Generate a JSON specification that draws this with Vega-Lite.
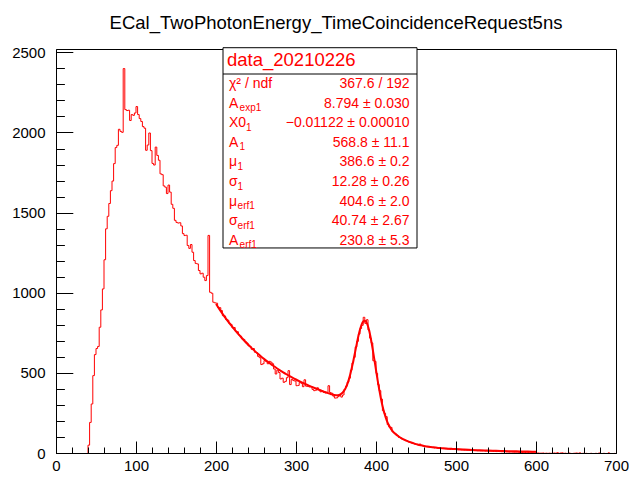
{
 "$schema": "https://vega.github.io/schema/vega-lite/v6.json",
 "width": 560, "height": 404,
 "autosize": {"type": "none"},
 "padding": {"left": 56, "top": 49, "right": 13, "bottom": 24},
 "background": "white",
 "config": {"view": {"stroke": "black", "strokeWidth": 1}, "font": "Liberation Sans"},
 "title": {"text": "ECal_TwoPhotonEnergy_TimeCoincidenceRequest5ns", "frame": "group", "anchor": "middle", "offset": -2, "baseline": "alphabetic", "fontSize": 18.5, "fontWeight": "normal", "font": "Liberation Sans", "color": "black"},
 "datasets": {
  "hist": [
{"x":1,"n":0},{"x":3,"n":0},{"x":5,"n":0},{"x":7,"n":0},{"x":9,"n":0},{"x":11,"n":0},{"x":13,"n":0},{"x":15,"n":0},{"x":17,"n":0},{"x":19,"n":0},
{"x":21,"n":0},{"x":23,"n":0},{"x":25,"n":0},{"x":27,"n":0},{"x":29,"n":0},{"x":31,"n":0},{"x":33,"n":0},{"x":35,"n":0},{"x":37,"n":0},{"x":39,"n":0},
{"x":41,"n":52},{"x":43,"n":194},{"x":45,"n":309},{"x":47,"n":486},{"x":49,"n":617},{"x":51,"n":655},{"x":53,"n":668},{"x":55,"n":788},{"x":57,"n":896},{"x":59,"n":1027},
{"x":61,"n":1209},{"x":63,"n":1402},{"x":65,"n":1480},{"x":67,"n":1560},{"x":69,"n":1640},{"x":71,"n":1700},{"x":73,"n":1809},{"x":75,"n":1909},{"x":77,"n":1923},{"x":79,"n":2023},
{"x":81,"n":2010},{"x":83,"n":2004},{"x":85,"n":2402},{"x":87,"n":2146},{"x":89,"n":2140},{"x":91,"n":2142},{"x":93,"n":2078},{"x":95,"n":2115},{"x":97,"n":2110},{"x":99,"n":2125},
{"x":101,"n":2165},{"x":103,"n":2115},{"x":105,"n":2090},{"x":107,"n":2072},{"x":109,"n":2040},{"x":111,"n":2030},{"x":113,"n":1892},{"x":115,"n":1925},{"x":117,"n":2000},{"x":119,"n":1890},
{"x":121,"n":1810},{"x":123,"n":1800},{"x":125,"n":1912},{"x":127,"n":1860},{"x":129,"n":1830},{"x":131,"n":1745},{"x":133,"n":1740},{"x":135,"n":1670},{"x":137,"n":1662},{"x":139,"n":1622},
{"x":141,"n":1675},{"x":143,"n":1631},{"x":145,"n":1555},{"x":147,"n":1530},{"x":149,"n":1455},{"x":151,"n":1442},{"x":153,"n":1438},{"x":155,"n":1440},{"x":157,"n":1420},{"x":159,"n":1372},
{"x":161,"n":1360},{"x":163,"n":1362},{"x":165,"n":1298},{"x":167,"n":1280},{"x":169,"n":1304},{"x":171,"n":1256},{"x":173,"n":1204},{"x":175,"n":1186},{"x":177,"n":1183},{"x":179,"n":1142},
{"x":181,"n":1121},{"x":183,"n":1125},{"x":185,"n":1100},{"x":187,"n":1079},{"x":189,"n":1110},{"x":191,"n":1361},{"x":193,"n":1006},{"x":195,"n":1000},{"x":197,"n":944},{"x":199,"n":940},
{"x":201,"n":938},{"x":203,"n":912},{"x":205,"n":910},{"x":207,"n":892},{"x":209,"n":860},{"x":211,"n":858},{"x":213,"n":836},{"x":215,"n":832},{"x":217,"n":812},{"x":219,"n":806},
{"x":221,"n":784},{"x":223,"n":786},{"x":225,"n":763},{"x":227,"n":760},{"x":229,"n":740},{"x":231,"n":732},{"x":233,"n":716},{"x":235,"n":712},{"x":237,"n":698},{"x":239,"n":690},
{"x":241,"n":672},{"x":243,"n":668},{"x":245,"n":650},{"x":247,"n":655},{"x":249,"n":632},{"x":251,"n":628},{"x":253,"n":606},{"x":255,"n":598},{"x":257,"n":555},{"x":259,"n":560},
{"x":261,"n":580},{"x":263,"n":575},{"x":265,"n":560},{"x":267,"n":575},{"x":269,"n":570},{"x":271,"n":560},{"x":273,"n":527},{"x":275,"n":496},{"x":277,"n":520},{"x":279,"n":505},
{"x":281,"n":465},{"x":283,"n":470},{"x":285,"n":444},{"x":287,"n":450},{"x":289,"n":473},{"x":291,"n":517},{"x":293,"n":430},{"x":295,"n":462},{"x":297,"n":455},{"x":299,"n":452},
{"x":301,"n":423},{"x":303,"n":425},{"x":305,"n":444},{"x":307,"n":438},{"x":309,"n":417},{"x":311,"n":460},{"x":313,"n":420},{"x":315,"n":418},{"x":317,"n":415},{"x":319,"n":417},
{"x":321,"n":400},{"x":323,"n":392},{"x":325,"n":395},{"x":327,"n":410},{"x":329,"n":398},{"x":331,"n":385},{"x":333,"n":392},{"x":335,"n":381},{"x":337,"n":378},{"x":339,"n":381},
{"x":341,"n":423},{"x":343,"n":380},{"x":345,"n":376},{"x":347,"n":358},{"x":349,"n":346},{"x":351,"n":347},{"x":353,"n":355},{"x":355,"n":362},{"x":357,"n":352},{"x":359,"n":365},
{"x":361,"n":400},{"x":363,"n":420},{"x":365,"n":445},{"x":367,"n":470},{"x":369,"n":520},{"x":371,"n":565},{"x":373,"n":600},{"x":375,"n":665},{"x":377,"n":700},{"x":379,"n":745},
{"x":381,"n":780},{"x":383,"n":800},{"x":385,"n":850},{"x":387,"n":812},{"x":389,"n":835},{"x":391,"n":770},{"x":393,"n":720},{"x":395,"n":690},{"x":397,"n":579},{"x":399,"n":575},
{"x":401,"n":500},{"x":403,"n":430},{"x":405,"n":392},{"x":407,"n":340},{"x":409,"n":267},{"x":411,"n":250},{"x":413,"n":230},{"x":415,"n":180},{"x":417,"n":165},{"x":419,"n":163},
{"x":421,"n":135},{"x":423,"n":128},{"x":425,"n":121},{"x":427,"n":112},{"x":429,"n":100},{"x":431,"n":97},{"x":433,"n":90},{"x":435,"n":86},{"x":437,"n":80},{"x":439,"n":79},
{"x":441,"n":72},{"x":443,"n":70},{"x":445,"n":66},{"x":447,"n":64},{"x":449,"n":58},{"x":451,"n":57},{"x":453,"n":53},{"x":455,"n":59},{"x":457,"n":50},{"x":459,"n":47},
{"x":461,"n":44},{"x":463,"n":43},{"x":465,"n":41},{"x":467,"n":40},{"x":469,"n":38},{"x":471,"n":37},{"x":473,"n":35},{"x":475,"n":38},{"x":477,"n":34},{"x":479,"n":36},
{"x":481,"n":32},{"x":483,"n":31},{"x":485,"n":30},{"x":487,"n":29},{"x":489,"n":28},{"x":491,"n":28},{"x":493,"n":26},{"x":495,"n":27},{"x":497,"n":25},{"x":499,"n":25},
{"x":501,"n":24},{"x":503,"n":23},{"x":505,"n":23},{"x":507,"n":22},{"x":509,"n":22},{"x":511,"n":21},{"x":513,"n":21},{"x":515,"n":20},{"x":517,"n":20},{"x":519,"n":19},
{"x":521,"n":21},{"x":523,"n":18},{"x":525,"n":18},{"x":527,"n":17},{"x":529,"n":17},{"x":531,"n":16},{"x":533,"n":16},{"x":535,"n":17},{"x":537,"n":15},{"x":539,"n":15},
{"x":541,"n":14},{"x":543,"n":15},{"x":545,"n":14},{"x":547,"n":13},{"x":549,"n":13},{"x":551,"n":12},{"x":553,"n":13},{"x":555,"n":12},{"x":557,"n":11},{"x":559,"n":11},
{"x":561,"n":12},{"x":563,"n":10},{"x":565,"n":10},{"x":567,"n":9},{"x":569,"n":10},{"x":571,"n":9},{"x":573,"n":8},{"x":575,"n":8},{"x":577,"n":9},{"x":579,"n":7},
{"x":581,"n":7},{"x":583,"n":6},{"x":585,"n":7},{"x":587,"n":6},{"x":589,"n":5},{"x":591,"n":6},{"x":593,"n":4},{"x":595,"n":5},{"x":597,"n":4},{"x":599,"n":4},
{"x":601,"n":3},{"x":603,"n":3},{"x":605,"n":2},{"x":607,"n":2},{"x":609,"n":3},{"x":611,"n":1},{"x":613,"n":2},{"x":615,"n":1},{"x":617,"n":2},{"x":619,"n":1},
{"x":621,"n":2},{"x":623,"n":3},{"x":625,"n":2},{"x":627,"n":5},{"x":629,"n":1},{"x":631,"n":3},{"x":633,"n":4},{"x":635,"n":1},{"x":637,"n":2},{"x":639,"n":0},
{"x":641,"n":4},{"x":643,"n":1},{"x":645,"n":0},{"x":647,"n":1},{"x":649,"n":2},{"x":651,"n":3},{"x":653,"n":1},{"x":655,"n":4},{"x":657,"n":0},{"x":659,"n":1},
{"x":661,"n":0},{"x":663,"n":1},{"x":665,"n":0},{"x":667,"n":0},{"x":669,"n":1},{"x":671,"n":0},{"x":673,"n":0},{"x":675,"n":1},{"x":677,"n":0},{"x":679,"n":3},
{"x":681,"n":0},{"x":683,"n":0},{"x":685,"n":1},{"x":687,"n":0},{"x":689,"n":0},{"x":691,"n":4},{"x":693,"n":0},{"x":695,"n":0},{"x":697,"n":0},{"x":699,"n":1}
  ],
  "fit": [
{"x":200,"f":930.0},{"x":204,"f":899.3},{"x":208,"f":870.0},{"x":212,"f":841.9},{"x":216,"f":815.1},{"x":220,"f":789.5},{"x":224,"f":765.0},{"x":228,"f":741.5},{"x":232,"f":719.1},{"x":236,"f":697.7},
{"x":240,"f":677.2},{"x":244,"f":657.6},{"x":248,"f":638.9},{"x":252,"f":621.0},{"x":256,"f":603.9},{"x":260,"f":587.5},{"x":264,"f":571.9},{"x":268,"f":556.9},{"x":272,"f":542.6},{"x":276,"f":528.9},
{"x":280,"f":515.8},{"x":284,"f":503.3},{"x":288,"f":491.4},{"x":292,"f":479.9},{"x":296,"f":469.0},{"x":300,"f":458.6},{"x":304,"f":448.5},{"x":308,"f":438.9},{"x":312,"f":429.7},{"x":316,"f":420.8},
{"x":320,"f":412.4},{"x":324,"f":404.2},{"x":328,"f":396.3},{"x":332,"f":388.5},{"x":336,"f":380.9},{"x":340,"f":373.8},{"x":344,"f":367.1},{"x":348,"f":362.1},{"x":352,"f":360.7},{"x":356,"f":367.2},
{"x":360,"f":387.4},{"x":362,"f":404.8},{"x":364,"f":428.2},{"x":366,"f":457.9},{"x":368,"f":494.0},{"x":370,"f":536.2},{"x":372,"f":583.1},{"x":374,"f":632.8},{"x":376,"f":682.8},{"x":378,"f":729.9},
{"x":380,"f":770.5},{"x":382,"f":801.9},{"x":384,"f":821.1},{"x":386,"f":825.9},{"x":388,"f":815.7},{"x":390,"f":790.5},{"x":392,"f":751.9},{"x":394,"f":702.1},{"x":396,"f":644.4},{"x":398,"f":581.9},
{"x":400,"f":517.8},{"x":402,"f":455.3},{"x":404,"f":396.6},{"x":406,"f":343.5},{"x":408,"f":297.0},{"x":410,"f":257.1},{"x":412,"f":223.8},{"x":414,"f":196.5},{"x":416,"f":174.3},{"x":418,"f":156.3},
{"x":420,"f":141.8},{"x":424,"f":119.9},{"x":428,"f":104.2},{"x":432,"f":91.8},{"x":436,"f":81.5},{"x":440,"f":72.6},{"x":444,"f":65.1},{"x":448,"f":58.6},{"x":452,"f":52.9},{"x":456,"f":48.1},
{"x":460,"f":44.1},{"x":464,"f":40.8},{"x":468,"f":37.8},{"x":472,"f":35.4},{"x":476,"f":33.1},{"x":480,"f":31.2},{"x":484,"f":29.6},{"x":488,"f":28.0},{"x":492,"f":26.7},{"x":496,"f":25.4},
{"x":500,"f":24.2},{"x":510,"f":21.5},{"x":520,"f":19.3},{"x":530,"f":17.2},{"x":540,"f":15.4},{"x":550,"f":13.8},{"x":560,"f":12.3},{"x":570,"f":11.0},{"x":580,"f":9.8},{"x":590,"f":8.8},{"x":600,"f":7.9}
  ],
  "stats": [
   {"row": 1, "sym": "χ² / ndf", "sub": "", "val": "367.6 / 192"},
   {"row": 2, "sym": "A", "sub": "exp1", "val": "8.794 ± 0.030"},
   {"row": 3, "sym": "X0", "sub": "1", "val": "−0.01122 ± 0.00010"},
   {"row": 4, "sym": "A", "sub": "1", "val": "568.8 ± 11.1"},
   {"row": 5, "sym": "μ", "sub": "1", "val": "386.6 ± 0.2"},
   {"row": 6, "sym": "σ", "sub": "1", "val": "12.28 ± 0.26"},
   {"row": 7, "sym": "μ", "sub": "erf1", "val": "404.6 ± 2.0"},
   {"row": 8, "sym": "σ", "sub": "erf1", "val": "40.74 ± 2.67"},
   {"row": 9, "sym": "A", "sub": "erf1", "val": "230.8 ± 5.3"}
  ]
 },
 "layer": [
  {
   "layer": [
    {
     "data": {"name": "hist"},
     "mark": {"type": "line", "interpolate": "step", "color": "#ff0000", "strokeWidth": 1, "yOffset": 0.5},
     "encoding": {
      "x": {"field": "x", "type": "quantitative", "scale": {"domain": [0, 700], "nice": false, "zero": false},
            "axis": {"orient": "bottom", "values": [0,100,200,300,400,500,600,700], "format": "d", "tickSize": -12, "tickColor": "black", "tickWidth": 1, "domain": true, "domainColor": "black", "domainWidth": 1, "labelFontSize": 15, "labelFont": "Liberation Sans", "labelColor": "black", "labelPadding": 17, "labelFlush": false, "labelOverlap": false, "grid": false, "title": null, "zindex": 1}},
      "y": {"field": "n", "type": "quantitative", "scale": {"domain": [0, 2521], "nice": false, "zero": true},
            "axis": {"orient": "left", "values": [0,500,1000,1500,2000,2500], "format": "d", "tickSize": -16.8, "tickColor": "black", "tickWidth": 1, "domain": true, "domainColor": "black", "domainWidth": 1, "labelFontSize": 15, "labelFont": "Liberation Sans", "labelColor": "black", "labelPadding": 27.8, "labelFlush": false, "labelOverlap": false, "grid": false, "title": null, "zindex": 1}}
     }
    },
    {
     "data": {"name": "fit"},
     "mark": {"type": "line", "interpolate": "monotone", "color": "#ff0000", "strokeWidth": 2},
     "encoding": {
      "x": {"field": "x", "type": "quantitative", "scale": {"domain": [0, 700], "nice": false, "zero": false},
            "axis": {"orient": "bottom", "values": [20,40,60,80,120,140,160,180,220,240,260,280,320,340,360,380,420,440,460,480,520,540,560,580,620,640,660,680], "tickSize": -6, "tickColor": "black", "tickWidth": 1, "domain": false, "labels": false, "grid": false, "title": null, "zindex": 1}},
      "y": {"field": "f", "type": "quantitative", "scale": {"domain": [0, 2521], "nice": false, "zero": true},
            "axis": {"orient": "left", "values": [100,200,300,400,600,700,800,900,1100,1200,1300,1400,1600,1700,1800,1900,2100,2200,2300,2400], "tickSize": -8.4, "tickColor": "black", "tickWidth": 1, "domain": false, "labels": false, "grid": false, "title": null, "zindex": 1}}
     }
    }
   ],
   "resolve": {"axis": {"x": "independent", "y": "independent"}}
  },
  {
   "layer": [
    {
     "data": {"values": [{}]},
     "mark": {"type": "rect", "fill": "white", "stroke": "black", "strokeWidth": 1},
     "encoding": {
      "x": {"datum": 208.75, "type": "quantitative", "axis": null},
      "x2": {"datum": 451.25},
      "y": {"datum": -1.056, "type": "quantitative", "scale": {"domain": [-0.99, 19.62], "reverse": true, "nice": false, "zero": false}, "axis": null},
      "y2": {"datum": 9.16}
     }
    },
    {
     "data": {"values": [{}]},
     "mark": {"type": "rule", "color": "black", "strokeWidth": 1},
     "encoding": {
      "x": {"datum": 208.75, "type": "quantitative", "axis": null},
      "x2": {"datum": 451.25},
      "y": {"datum": 0.286, "type": "quantitative", "axis": null}
     }
    },
    {
     "data": {"values": [{}]},
     "mark": {"type": "text", "text": "data_20210226", "align": "left", "baseline": "alphabetic", "fontSize": 18.5, "font": "Liberation Sans", "color": "#ff0000"},
     "encoding": {
      "x": {"datum": 213.75, "type": "quantitative", "axis": null},
      "y": {"datum": -0.14, "type": "quantitative", "axis": null}
     }
    },
    {
     "data": {"name": "stats"},
     "mark": {"type": "text", "align": "left", "baseline": "alphabetic", "fontSize": 14, "font": "Liberation Sans", "color": "#ff0000"},
     "encoding": {
      "x": {"datum": 216.25, "type": "quantitative", "axis": null},
      "y": {"field": "row", "type": "quantitative", "axis": null},
      "text": {"field": "sym"}
     }
    },
    {
     "data": {"name": "stats"},
     "transform": [{"filter": "datum.sym === 'A'"}],
     "mark": {"type": "text", "align": "left", "baseline": "alphabetic", "fontSize": 10, "dy": 3.5, "font": "Liberation Sans", "color": "#ff0000"},
     "encoding": {
      "x": {"datum": 229.5, "type": "quantitative", "axis": null},
      "y": {"field": "row", "type": "quantitative", "axis": null},
      "text": {"field": "sub"}
     }
    },
    {
     "data": {"name": "stats"},
     "transform": [{"filter": "datum.sym === 'μ' || datum.sym === 'σ'"}],
     "mark": {"type": "text", "align": "left", "baseline": "alphabetic", "fontSize": 10, "dy": 3.5, "font": "Liberation Sans", "color": "#ff0000"},
     "encoding": {
      "x": {"datum": 227, "type": "quantitative", "axis": null},
      "y": {"field": "row", "type": "quantitative", "axis": null},
      "text": {"field": "sub"}
     }
    },
    {
     "data": {"name": "stats"},
     "transform": [{"filter": "datum.sym === 'X0'"}],
     "mark": {"type": "text", "align": "left", "baseline": "alphabetic", "fontSize": 10, "dy": 3.5, "font": "Liberation Sans", "color": "#ff0000"},
     "encoding": {
      "x": {"datum": 237.5, "type": "quantitative", "axis": null},
      "y": {"field": "row", "type": "quantitative", "axis": null},
      "text": {"field": "sub"}
     }
    },
    {
     "data": {"name": "stats"},
     "mark": {"type": "text", "align": "right", "baseline": "alphabetic", "fontSize": 14, "font": "Liberation Sans", "color": "#ff0000"},
     "encoding": {
      "x": {"datum": 441.9, "type": "quantitative", "axis": null},
      "y": {"field": "row", "type": "quantitative", "axis": null},
      "text": {"field": "val"}
     }
    }
   ]
  }
 ],
 "resolve": {"scale": {"y": "independent"}, "axis": {"y": "independent"}}
}
